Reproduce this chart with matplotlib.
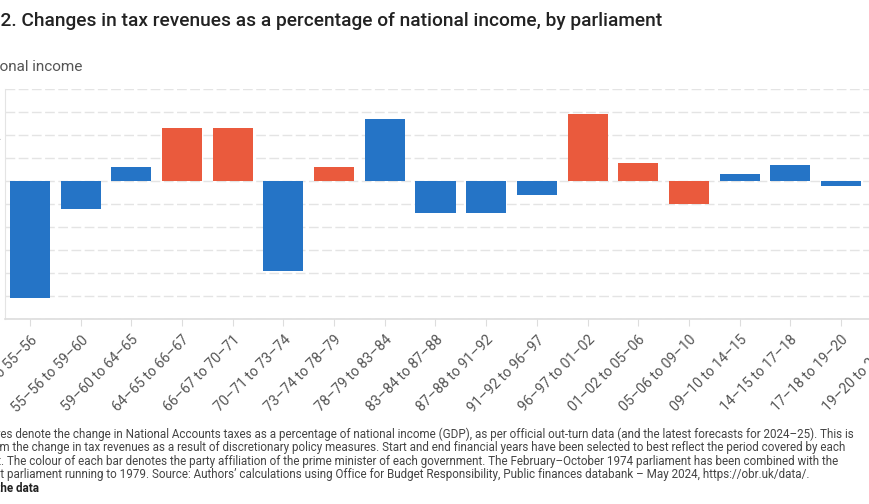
import matplotlib
matplotlib.use("Agg")
import matplotlib.pyplot as plt
import numpy as np

plt.rcParams['font.family'] = ['Roboto', 'DejaVu Sans']

# parliaments (financial years) and change in tax receipts, % of national income
periods = ["51–52 to 55–56", "55–56 to 59–60", "59–60 to 64–65", "64–65 to 66–67",
           "66–67 to 70–71", "70–71 to 73–74", "73–74 to 78–79", "78–79 to 83–84",
           "83–84 to 87–88", "87–88 to 91–92", "91–92 to 96–97", "96–97 to 01–02",
           "01–02 to 05–06", "05–06 to 09–10", "09–10 to 14–15", "14–15 to 17–18",
           "17–18 to 19–20", "19–20 to 24–25"]
change = [-5.1, -1.2, 0.6, 2.3, 2.3, -3.9, 0.6, 2.7, -1.4, -1.4, -0.6, 2.9,
          0.8, -1.0, 0.3, 0.7, -0.2, 3.4]
party = ["Con", "Con", "Con", "Lab", "Lab", "Con", "Lab", "Con", "Con", "Con",
         "Con", "Lab", "Lab", "Lab", "Con", "Con", "Con", "Con"]

colours = {"Con": "#2574c6", "Lab": "#ea5a3d"}
W, H = 869, 504

fig = plt.figure(figsize=(W / 100, H / 100), dpi=100)
ax = fig.add_axes([4.65 / W, 1 - 319 / H, (917 - 4.65) / W, (319 - 89) / H])

x = np.arange(len(periods))
ax.bar(x, change, width=0.79, color=[colours[p] for p in party], zorder=3)

ax.set_xlim(-0.5, len(periods) - 0.5)
ax.set_ylim(-6, 4)
ax.set_yticks(np.arange(-6, 5, 1))
ax.grid(axis='y', color='#e4e4e4', linestyle=(0, (7, 2.5)), linewidth=1, zorder=0)
ax.tick_params(axis='y', length=0, labelsize=10, labelcolor='#555555')

for side in ['top', 'right']:
    ax.spines[side].set_visible(False)
ax.spines['left'].set_color('#e4e4e4')
ax.spines['bottom'].set_color('#dddddd')
ax.spines['bottom'].set_linewidth(1.2)

ax.set_xticks(x)
ax.set_xticklabels(periods, rotation=45, ha='right', rotation_mode='anchor',
                   fontsize=10.2, color='#555555')
ax.tick_params(axis='x', length=5, color='#dddddd', pad=5)

renderer = fig.canvas.get_renderer()


def cut_text(y, hidden, visible, x_vis, **kw):
    # full line of text, shifted so that its visible part starts at x_vis (pixels)
    t = fig.text(0, y / H, hidden + visible, va='center', **kw)
    full_w = t.get_window_extent(renderer).width
    probe = fig.text(0, y / H, visible, va='center', **kw)
    vis_w = probe.get_window_extent(renderer).width
    probe.remove()
    t.set_x((x_vis - (full_w - vis_w)) / W)
    return t


cut_text(504 - 21.5, "Figure ",
         "2. Changes in tax revenues as a percentage of national income, by parliament",
         0, fontsize=13.75, color='#222222', fontweight='medium')

fig.text(82 / W, 1 - 67 / H, "Percentage points of national income", ha='right',
         va='center', fontsize=11, color='#555555')

note = dict(fontsize=8.4, color='#444444')
cut_text(504 - 434, "Note: Figur",
         "es denote the change in National Accounts taxes as a percentage of national income (GDP), "
         "as per official out-turn data (and the latest forecasts for 2024–25). This is", 0, **note)
cut_text(504 - 447.5, "distinct fro",
         "m the change in tax revenues as a result of discretionary policy measures. Start and end "
         "financial years have been selected to best reflect the period covered by each", 0, **note)
cut_text(504 - 461, "parliament",
         ". The colour of each bar denotes the party affiliation of the prime minister of each "
         "government. The February–October 1974 parliament has been combined with the", 0.5, **note)
cut_text(504 - 474.5, "subsequen",
         "t parliament running to 1979. Source: Authors’ calculations using Office for Budget "
         "Responsibility, Public finances databank – May 2024, https://obr.uk/data/.", 0, **note)
cut_text(504 - 488, "Download t", "he data", 0, fontweight='bold', fontsize=8.4, color='#222222')

fig.savefig("out.png", dpi=100)
